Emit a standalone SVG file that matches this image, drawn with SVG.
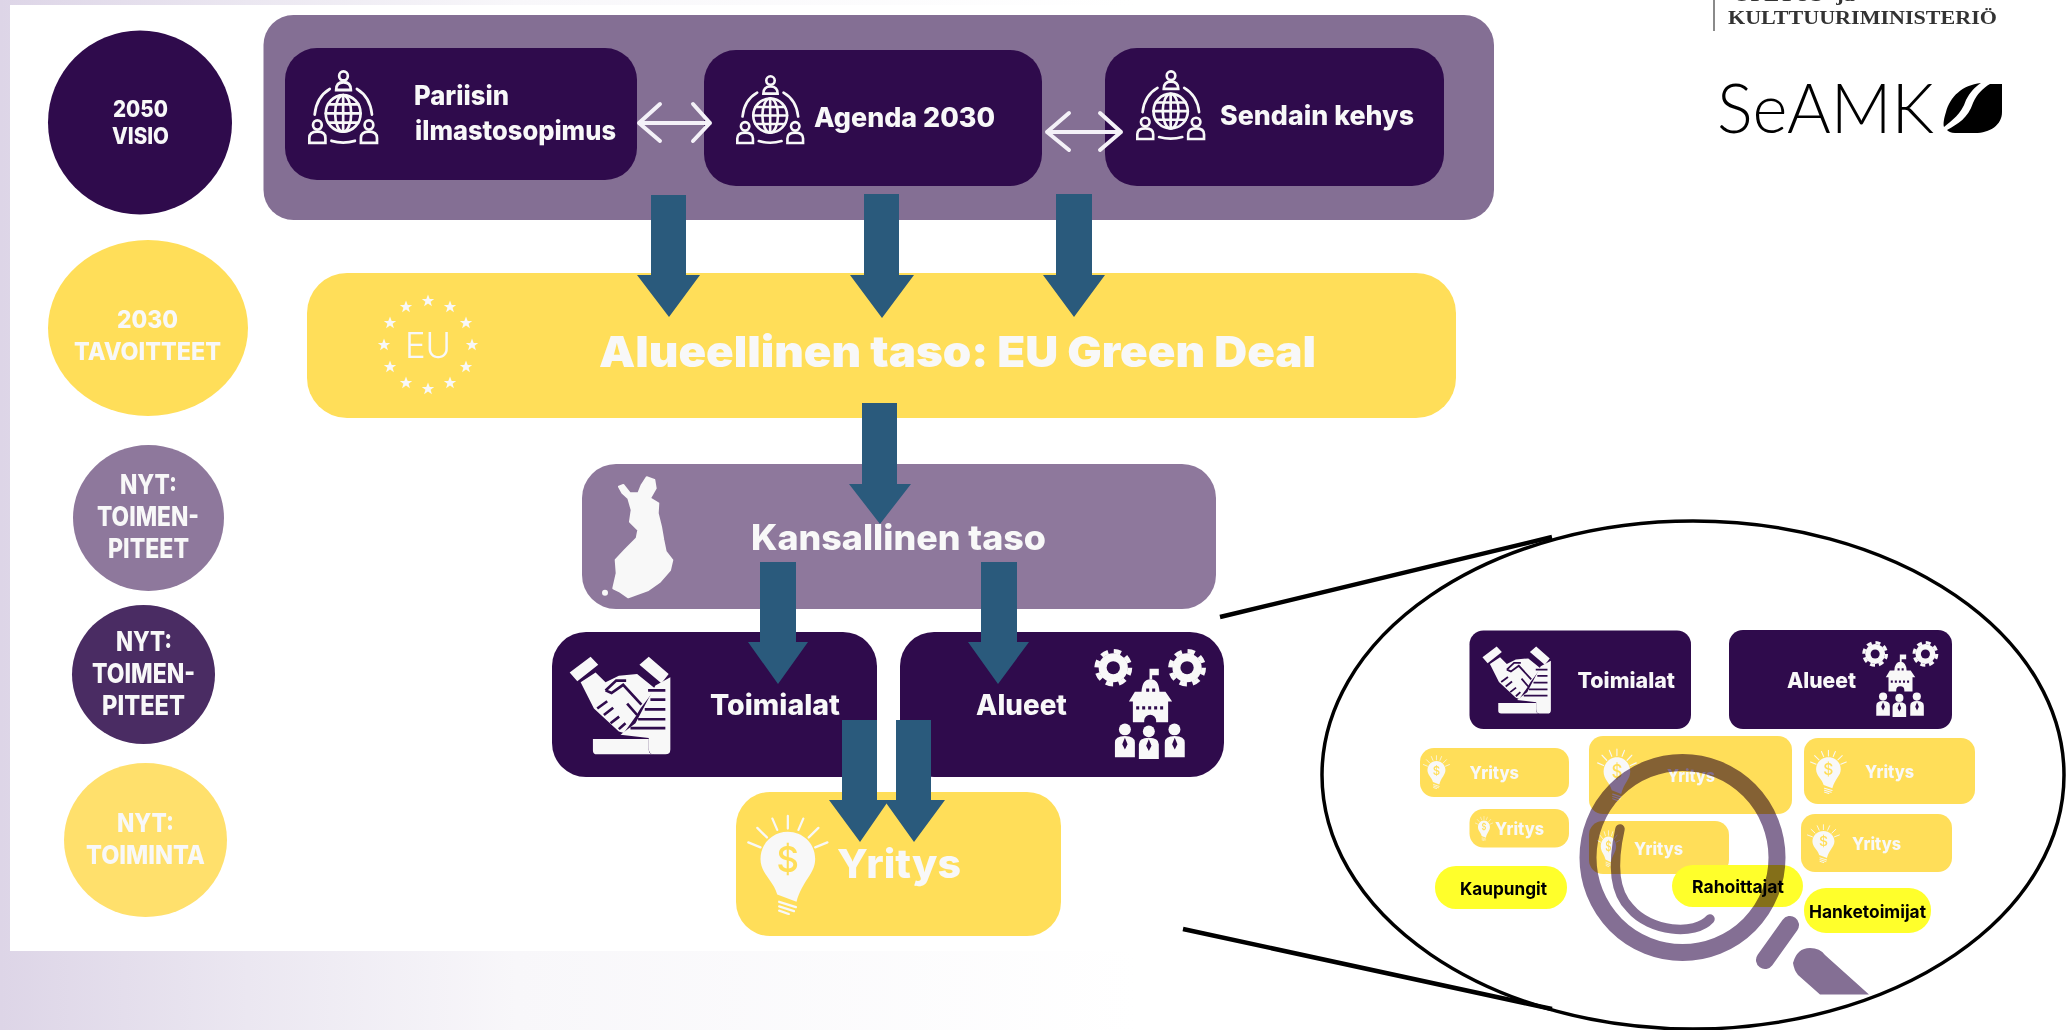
<svg xmlns="http://www.w3.org/2000/svg" width="2066" height="1030" viewBox="0 0 2066 1030">
<style>
text{font-family:"Inter","Liberation Sans",sans-serif;font-weight:800;fill:#f8f8f8}
.dk{fill:#2f0b4c}.ye{fill:#ffde59}.pu{fill:#846f94}.lp{fill:#8e789c}
.ar{fill:#2a5a7c}
.w{fill:#f8f8f8}
.ls{fill:none;stroke:#f8f8f8;stroke-linecap:round}
.da{fill:none;stroke:#f4f1f8;stroke-width:4;stroke-linecap:round;stroke-linejoin:round}
.cl{stroke:#000;stroke-width:4.5;fill:none}
.bk{fill:#000}
</style>
<defs>
<linearGradient id="bg" x1="0" y1="0" x2="1" y2="0">
<stop offset="0" stop-color="#ddd5e7"/><stop offset=".12" stop-color="#ebe7f1"/><stop offset=".25" stop-color="#f8f7fa"/><stop offset=".55" stop-color="#fff"/>
</linearGradient>
<symbol id="globe" viewBox="40 28 212 214" preserveAspectRatio="none">
<g class="ls" stroke-width="8">
<circle cx="146" cy="45" r="13"/><path d="M124 85q0-22 22-22t22 22z"/>
<circle cx="68" cy="185" r="13"/><path d="M44 236v-14q0-18 24-18t24 18v14z"/>
<circle cx="222" cy="185" r="13"/><path d="M198 236v-14q0-18 24-18t24 18v14z"/>
<path d="M60 155q5-50 45-73M186 82q40 23 45 73M110 230q35 10 70 0"/>
<circle cx="145" cy="152" r="52"/><ellipse cx="145" cy="152" rx="24" ry="52"/>
<path d="M145 100v104M93 152h104M100 126h90M100 178h90"/>
</g>
</symbol>
<symbol id="deal" viewBox="40 45 310 302" preserveAspectRatio="none">
<path class="w" d="M300 135l45-25v220q0 15-15 15h-35q-15 0-15-20v-30l-85-10 45-35z"/>
<path class="w" d="M112 298h168v32q0 15 15 15H125q-13 0-13-12z"/>
<path class="w" d="M42 95l63-48 23 25-63 50zM252 72l28-25 60 53-22 28z"/>
<path class="w" d="M75 125l45-30 30 30 40-20 55-5 55 45-45 60-15 25-35 50-15-5-75-70z"/>
<path fill="none" stroke="#2f0b4c" stroke-width="8" d="M278 150h52M285 178h45M268 208h62M248 238h82M225 265h105M150 150l32-30 30 0M150 150l18 8 35-25 55 60M215 190l30 35M125 205l30-22M145 225l28-22M165 250l26-20M190 268l20-18"/>
</symbol>
<g id="gear"><circle r="44" class="w"/><circle r="50" fill="none" stroke="#f8f8f8" stroke-width="14" stroke-dasharray="22 17.270"/><circle r="20" class="dk"/></g>
<symbol id="civic" viewBox="25 25 340 335" preserveAspectRatio="none">
<use href="#gear" x="83" y="82"/><use href="#gear" x="305" y="82"/>
<path class="w" d="M192 118V85h28v20h-20v13z"/>
<path class="w" d="M168 155q2-38 27-38t27 38h18l20 30h-12v63h-36v-5a18 18 0 0 0-36 0v5h-34v-63h-12l18-30z"/>
<path stroke="#2f0b4c" stroke-width="10" stroke-dasharray="9 9" fill="none" d="M182 150h28M152 204h86"/>
<circle class="w" cx="118" cy="270" r="18"/><circle class="w" cx="190" cy="276" r="18"/><circle class="w" cx="267" cy="270" r="18"/>
<path class="w" d="M88 355v-45q0-20 30-20t30 20v45zM160 360v-45q0-20 30-20t30 20v45zM238 355v-45q0-20 30-20t30 20v45z"/>
<path class="dk" d="M118 295l8 20-8 16-8-16zM190 300l8 20-8 16-8-16zM268 295l8 20-8 16-8-16z"/>
</symbol>
<symbol id="bulb" viewBox="18 24 255 306" preserveAspectRatio="none">
<path class="w" d="M112 268C100 225 60 205 60 160 60 112 100 78 145 78s85 34 85 82c0 45-40 65-58 130z"/>
<path class="ls" stroke-width="7" d="M145 68V30M112 72L97 38M80 95L50 66M60 125L22 110M178 72l15-34M210 95l30-29M230 125l38-15M118 290l52 16M118 304l46 14M118 317l30 10"/>
<text x="145" y="200" text-anchor="middle" font-size="108" style="fill:#ffde59;font-weight:500">$</text>
</symbol>
<polygon id="star" class="w" points="0,-6.500 1.700,-2 6.200,-2 2.600,.8 3.900,5.300 0,2.600 -3.900,5.300 -2.600,.8 -6.200,-2 -1.700,-2"/>
</defs>

<g id="background">
<rect width="2066" height="1030" fill="url(#bg)"/>
<rect x="10" y="5" width="2056" height="946" fill="#fff"/>
</g>

<g id="level-labels">
<g id="c2050"><circle cx="140" cy="122.500" r="92" class="dk"/>
<text x="113" y="117" font-size="23" textLength="55" lengthAdjust="spacingAndGlyphs">2050</text>
<text x="112" y="144" font-size="23" textLength="57" lengthAdjust="spacingAndGlyphs">VISIO</text></g>
<g id="c2030"><ellipse cx="148" cy="328" rx="100" ry="88" class="ye"/>
<text x="117" y="328" font-size="24" textLength="61" lengthAdjust="spacingAndGlyphs">2030</text>
<text x="74" y="360" font-size="24" textLength="147" lengthAdjust="spacingAndGlyphs">TAVOITTEET</text></g>
<g id="cnow1"><ellipse cx="148.500" cy="518" rx="75.500" ry="73" class="lp"/>
<text x="120" y="494" font-size="27" textLength="57" lengthAdjust="spacingAndGlyphs">NYT:</text>
<text x="97" y="526" font-size="27" textLength="102" lengthAdjust="spacingAndGlyphs">TOIMEN-</text>
<text x="108" y="558" font-size="27" textLength="81" lengthAdjust="spacingAndGlyphs">PITEET</text></g>
<g id="cnow2"><ellipse cx="143.500" cy="674.500" rx="71.500" ry="69.500" fill="#4a2c63"/>
<text x="116" y="651" font-size="27" textLength="56" lengthAdjust="spacingAndGlyphs">NYT:</text>
<text x="92" y="683" font-size="27" textLength="103" lengthAdjust="spacingAndGlyphs">TOIMEN-</text>
<text x="102" y="715" font-size="27" textLength="83" lengthAdjust="spacingAndGlyphs">PITEET</text></g>
<g id="cnow3"><ellipse cx="145.500" cy="840" rx="81.500" ry="77" fill="#ffe06c"/>
<text x="117" y="832" font-size="26" textLength="57" lengthAdjust="spacingAndGlyphs">NYT:</text>
<text x="86" y="864" font-size="26" textLength="119" lengthAdjust="spacingAndGlyphs">TOIMINTA</text></g>
</g>

<g id="global"><rect x="263.500" y="15" width="1230.500" height="205" rx="30" class="pu"/></g>
<g id="pariisi"><rect x="285" y="48" width="352" height="132" rx="32" class="dk"/>
<use href="#globe" x="308" y="70" width="71" height="75"/>
<text x="414" y="105" font-size="27" textLength="95" lengthAdjust="spacingAndGlyphs">Pariisin</text>
<text x="415" y="140" font-size="27" textLength="201" lengthAdjust="spacingAndGlyphs">ilmastosopimus</text></g>
<g id="agenda"><rect x="704" y="50" width="338" height="136" rx="32" class="dk"/>
<use href="#globe" x="736" y="75" width="69" height="70"/>
<text x="814" y="127" font-size="27" textLength="181" lengthAdjust="spacingAndGlyphs">Agenda 2030</text></g>
<g id="sendai"><rect x="1105" y="48" width="339" height="138" rx="32" class="dk"/>
<use href="#globe" x="1136" y="70" width="70" height="71"/>
<text x="1220" y="125" font-size="27" textLength="194" lengthAdjust="spacingAndGlyphs">Sendain kehys</text></g>

<g id="eu"><rect x="307" y="273" width="1149" height="145" rx="40" class="ye"/>
<use href="#star" x="428" y="301"/><use href="#star" x="450" y="307"/><use href="#star" x="466" y="323"/><use href="#star" x="472" y="345"/><use href="#star" x="466" y="367"/><use href="#star" x="450" y="383"/><use href="#star" x="428" y="389"/><use href="#star" x="406" y="383"/><use href="#star" x="390" y="367"/><use href="#star" x="384" y="345"/><use href="#star" x="390" y="323"/><use href="#star" x="406" y="307"/>
<text x="405" y="358" font-size="36" textLength="46" lengthAdjust="spacingAndGlyphs" style="font-weight:300">EU</text>
<text x="599" y="367" font-size="43" textLength="717" lengthAdjust="spacingAndGlyphs" style="font-weight:900">Alueellinen taso: EU Green Deal</text></g>

<g id="kansallinen"><rect x="582" y="464" width="634" height="145" rx="34" class="lp"/>
<path class="w" stroke="#f8f8f8" stroke-width="2" stroke-linejoin="round" d="M646.700 477.300L654.300 480 655.700 488.300 650 498.300 658.300 503.300 657.700 513.300 661 526.700 663.300 540 665.700 551.700 672.300 560 670 570 660 581.700 648.300 590 628.300 597.300 620 591.700 613.300 588.300 616.700 573.300 615.700 560 625 550 636.700 538.300 638.300 530 630 521.700 631.700 510 628.300 498.300 622.300 492.700 619 486.700 623.300 485 630 493.300 638.300 493.300 641.700 485z"/>
<circle class="w" cx="605" cy="592.700" r="3"/>
<text x="751" y="550" font-size="35" textLength="295" lengthAdjust="spacingAndGlyphs">Kansallinen taso</text></g>

<g id="toimialat"><rect x="552" y="632" width="325" height="145" rx="34" class="dk"/>
<use href="#deal" x="569" y="656" width="103" height="99"/>
<text x="710" y="715" font-size="28" textLength="130" lengthAdjust="spacingAndGlyphs">Toimialat</text></g>
<g id="alueet"><rect x="900" y="632" width="324" height="145" rx="34" class="dk"/>
<use href="#civic" x="1094" y="649" width="113" height="110"/>
<text x="976" y="715" font-size="28" textLength="91" lengthAdjust="spacingAndGlyphs">Alueet</text></g>
<g id="yritys"><rect x="736" y="792" width="325" height="144" rx="34" class="ye"/>
<use href="#bulb" x="747" y="814" width="82" height="101"/>
<text x="837" y="878" font-size="40" textLength="124" lengthAdjust="spacingAndGlyphs">Yritys</text></g>

<g id="connectors">
<polygon class="ar" points="651,195 686,195 686,275 700,275 669,317 637,275 651,275"/>
<polygon class="ar" points="864,194 899,194 899,275 914,275 882,318 850,275 864,275"/>
<polygon class="ar" points="1056,194 1092,194 1092,275 1105,275 1074,317 1043,275 1056,275"/>
<polygon class="ar" points="862,403 897,403 897,484 911,484 880,524 849,484 862,484"/>
<polygon class="ar" points="760,562 796,562 796,642 808,642 778,684 748,642 760,642"/>
<polygon class="ar" points="981,562 1017,562 1017,642 1029,642 998,684 968,642 981,642"/>
<polygon class="ar" points="842,720 877,720 877,800 889,800 860,842 829,800 842,800"/>
<polygon class="ar" points="896,720 931,720 931,800 945,800 914,842 884,800 896,800"/>
<path class="da" d="M660 104L639 123 660 141M639 123H710M693 104L710 123 693 141"/>
<path class="da" d="M1069 113L1047 132 1069 150M1047 132H1121M1100 113L1121 132 1100 150"/>
<path class="cl" d="M1220 617L1552 537M1183 929L1552 1009"/>
</g>

<g id="callout"><ellipse cx="1693" cy="775" rx="371" ry="254" fill="none" stroke="#000" stroke-width="3.500"/></g>
<g id="z-toimialat"><rect x="1469.500" y="630.500" width="221.500" height="98.500" rx="14" class="dk"/>
<use href="#deal" x="1482" y="646" width="70" height="68"/>
<text x="1577.500" y="688" font-size="22" textLength="97.500" lengthAdjust="spacingAndGlyphs">Toimialat</text></g>
<g id="z-alueet"><rect x="1729" y="630" width="223" height="99" rx="14" class="dk"/>
<use href="#civic" x="1862" y="641" width="77" height="76"/>
<text x="1787" y="688" font-size="22" textLength="69" lengthAdjust="spacingAndGlyphs">Alueet</text></g>
<g id="z-y1"><rect x="1420" y="748" width="149" height="49" rx="14" class="ye"/><use href="#bulb" x="1423" y="755" width="27" height="34"/>
<text x="1469.500" y="779" font-size="17" textLength="49.500" lengthAdjust="spacingAndGlyphs">Yritys</text></g>
<g id="z-y2"><rect x="1589" y="736" width="203" height="78" rx="14" class="ye"/><use href="#bulb" x="1597" y="748" width="40" height="53"/>
<text x="1667" y="782" font-size="17" textLength="48" lengthAdjust="spacingAndGlyphs">Yritys</text></g>
<g id="z-y3"><rect x="1804" y="738" width="171" height="66" rx="14" class="ye"/><use href="#bulb" x="1810" y="749.500" width="37" height="44.500"/>
<text x="1865" y="778" font-size="17" textLength="49" lengthAdjust="spacingAndGlyphs">Yritys</text></g>
<g id="z-y4"><rect x="1469.500" y="809" width="99.500" height="38.500" rx="14" class="ye"/><use href="#bulb" x="1475" y="816" width="18" height="25"/>
<text x="1495" y="835" font-size="17" textLength="49" lengthAdjust="spacingAndGlyphs">Yritys</text></g>
<g id="z-y5"><rect x="1589" y="821" width="140" height="53" rx="14" class="ye"/><use href="#bulb" x="1597" y="830" width="23" height="37"/>
<text x="1634" y="855" font-size="17" textLength="49" lengthAdjust="spacingAndGlyphs">Yritys</text></g>
<g id="z-y6"><rect x="1801" y="814" width="151" height="58" rx="14" class="ye"/><use href="#bulb" x="1807" y="824" width="33" height="39"/>
<text x="1852" y="850" font-size="17" textLength="49" lengthAdjust="spacingAndGlyphs">Yritys</text></g>
<g id="z-kaupungit"><rect x="1435" y="866" width="132" height="43" rx="21" fill="#ffff2b"/>
<text style="fill:#000;font-weight:700" x="1460" y="894.500" font-size="18" textLength="87" lengthAdjust="spacingAndGlyphs">Kaupungit</text></g>
<g id="z-rahoittajat"><rect x="1672" y="865" width="131" height="42" rx="21" fill="#ffff2b"/>
<text style="fill:#000;font-weight:700" x="1692" y="893" font-size="18" textLength="92" lengthAdjust="spacingAndGlyphs">Rahoittajat</text></g>
<g id="z-hanke"><rect x="1804" y="888" width="127" height="45" rx="22" fill="#ffff2b"/>
<text style="fill:#000;font-weight:700" x="1809" y="917.500" font-size="18" textLength="117" lengthAdjust="spacingAndGlyphs">Hanketoimijat</text></g>

<g id="magnifier" style="mix-blend-mode:multiply">
<ellipse cx="1682.500" cy="857.500" rx="94.500" ry="95" fill="none" stroke="#846f94" stroke-width="17"/>
<path d="M1620 829C1613 860 1612 890 1630 908 1650 932 1695 936 1710 919" fill="none" stroke="#846f94" stroke-width="9.500" stroke-linecap="round"/>
<path d="M1790 925L1765 960" fill="none" stroke="#846f94" stroke-width="18" stroke-linecap="round"/>
<path class="pu" d="M1793 963Q1797 948 1810 948 1820 948 1825 955L1869 994.600H1820L1798 975Q1794 970 1793 963z"/>
</g>

<g id="logos">
<path d="M1714 0V31" stroke="#8a8a8a" stroke-width="2"/>
<text x="1733" y="1" font-size="18" textLength="122" lengthAdjust="spacingAndGlyphs" style="font-family:'Liberation Serif',serif;fill:#333;font-weight:700">OPETUS- ja</text>
<text x="1728" y="24" font-size="18" textLength="269" lengthAdjust="spacingAndGlyphs" style="font-family:'Liberation Serif',serif;fill:#333;font-weight:700">KULTTUURIMINISTERIÖ</text>
<text x="1717" y="133" font-size="69" textLength="217" lengthAdjust="spacingAndGlyphs" style="font-family:'Lato',sans-serif;fill:#000;font-weight:300">SeAMK</text>
<path class="bk" d="M1981 83C1962 85 1950 97 1946 112 1944 118 1943 124 1944 127 1952 120 1961 115 1966 100 1970 92 1975 87 1981 83z"/>
<path class="bk" d="M2002 84V112C2002 125 1990 133 1975 133H1955C1951 133 1948 131 1947 130 1958 124 1968 118 1973 103 1977 94 1983 88 1990 84z"/>
</g>
</svg>
